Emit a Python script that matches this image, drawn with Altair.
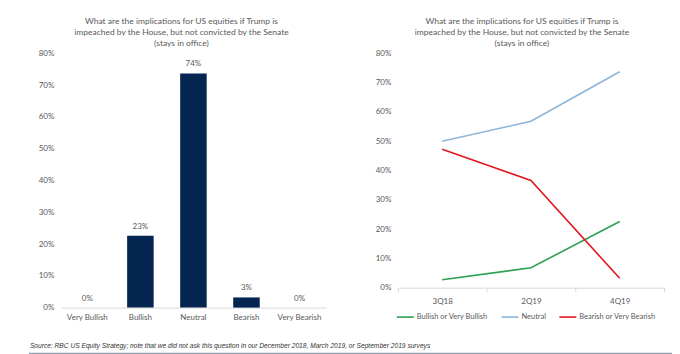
import altair as alt
import pandas as pd

# ---- data ----
bar_categories = ["Very Bullish", "Bullish", "Neutral", "Bearish", "Very Bearish"]
bar_values = [0.0, 0.226, 0.737, 0.032, 0.0]
bar_labels = ["0%", "23%", "74%", "3%", "0%"]

quarters = ["3Q18", "2Q19", "4Q19"]
series_names = ["Bullish or Very Bullish", "Neutral", "Bearish or Very Bearish"]
bullish_vals = [0.027, 0.068, 0.226]
neutral_vals = [0.50, 0.568, 0.737]
bearish_vals = [0.473, 0.366, 0.032]

title_lines = [
    "What are the  implications for US equities if Trump is",
    "impeached by the House, but not convicted by the Senate",
    "(stays in office)",
]
source_text = ("Source: RBC US Equity Strategy; note that we did not ask this question in our "
               "December 2018, March 2019, or September 2019 surveys")

FONT = "Lato"
GRAY = "#595959"
FS = 8.5
LFS = 8


def make_title(dx):
    return alt.TitleParams(text=title_lines, fontSize=FS, font=FONT, color=GRAY,
                           fontWeight="normal", lineHeight=11, anchor="middle",
                           frame="group", offset=2, dx=dx)


bar_df = pd.DataFrame({"cat": bar_categories, "val": bar_values, "lab": bar_labels})
rows = []
for name, vals in zip(series_names, [bullish_vals, neutral_vals, bearish_vals]):
    for q, v in zip(quarters, vals):
        rows.append({"q": q, "series": name, "val": v})
line_df = pd.DataFrame(rows)

yaxis = alt.Axis(format=".0%", values=[0, 0.1, 0.2, 0.3, 0.4, 0.5, 0.6, 0.7, 0.8], grid=False,
                 domain=False, ticks=False, labelPadding=7, labelFont=FONT, labelFontSize=LFS,
                 labelColor=GRAY, title=None, labelOverlap=False)

# ---- left bar chart ----
xb = alt.X("cat:N", sort=bar_categories, title=None,
           scale=alt.Scale(paddingInner=0.5, paddingOuter=0.25),
           axis=alt.Axis(labelAngle=0, domainColor="#d9d9d9", ticks=False, labelPadding=6,
                         labelFont=FONT, labelFontSize=LFS, labelColor=GRAY))
yb = alt.Y("val:Q", scale=alt.Scale(domain=[0, 0.8], nice=False), axis=yaxis)
bars = alt.Chart(bar_df).mark_bar(color="#03254f").encode(x=xb, y=yb)
blabels = alt.Chart(bar_df).mark_text(baseline="bottom", dy=-5, font=FONT, fontSize=LFS,
                                      color=GRAY).encode(x=xb, y=yb, text="lab:N")

# footer (source note + bottom rule), positioned relative to the left plot
fdf = pd.DataFrame({"t": [source_text]})
ftext = alt.Chart(fdf).mark_text(align="left", baseline="middle", fontStyle="italic",
                                 font="Liberation Sans", fontSize=6.65, color="#333333").encode(
    x=alt.value(-31), y=alt.value(294), text="t:N")
frule = alt.Chart(fdf).mark_rule(color="#8fa2b4", strokeWidth=1.5).encode(
    x=alt.value(-32), x2=alt.value(613), y=alt.value(301))

left = alt.layer(bars, blabels, ftext, frule).properties(width=266, height=255,
                                                        title=make_title(-12))

# ---- right line chart ----
xl = alt.X("q:N", sort=quarters, title=None, bandPosition=0.5,
           scale=alt.Scale(type="band", paddingInner=0, paddingOuter=0),
           axis=alt.Axis(labelAngle=0, domainColor="#d9d9d9", tickColor="#d9d9d9", tickSize=4,
                         tickBand="extent", labelPadding=6,
                         labelFont=FONT, labelFontSize=LFS, labelColor=GRAY))
yl = alt.Y("val:Q", scale=alt.Scale(domain=[0, 0.8], nice=False), axis=yaxis)
legend = alt.Legend(title=None, orient="none", direction="horizontal", legendX=-2, legendY=255,
                    symbolType="stroke", symbolSize=289, labelFont=FONT, labelFontSize=7.5,
                    labelColor=GRAY, labelOffset=2, columnPadding=9)
lines = alt.Chart(line_df).mark_line().encode(
    x=xl, y=yl,
    color=alt.Color("series:N", sort=series_names,
                    scale=alt.Scale(domain=series_names, range=["#2ca055", "#8db4d9", "#e3161d"]),
                    legend=legend),
    strokeWidth=alt.StrokeWidth("series:N", sort=series_names,
                                scale=alt.Scale(domain=series_names, range=[1.6, 1.6, 2.6]),
                                legend=legend),
)
right = lines.properties(width=267, height=235, title=make_title(-9))

chart = alt.HConcatChart(hconcat=[left, right], spacing=72, bounds="flush").resolve_legend(
    color="independent", strokeWidth="independent"
).resolve_scale(color="independent", strokeWidth="independent").properties(
    padding={"left": 28, "top": 16, "right": 7, "bottom": 0}
).configure_view(stroke=None)

chart.save("out.html", embed_options={"renderer": "svg", "actions": False})
